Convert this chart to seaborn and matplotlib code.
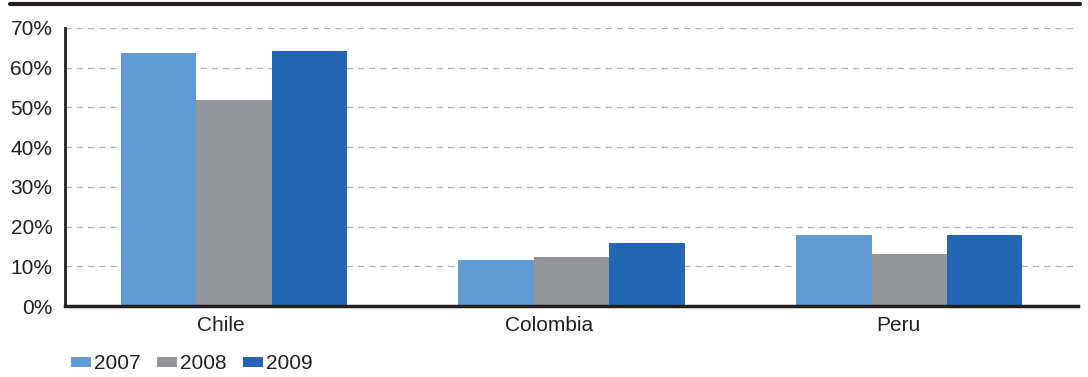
import matplotlib
matplotlib.use("Agg")
import matplotlib.pyplot as plt
import matplotlib.transforms as mtransforms
from matplotlib.lines import Line2D
from matplotlib.patches import Patch
import seaborn as sns
import pandas as pd

countries = ["Chile", "Colombia", "Peru"]
years = ["2007", "2008", "2009"]
v2007 = [63.6, 11.5, 18.0]
v2008 = [51.9, 12.3, 13.0]
v2009 = [64.3, 15.8, 17.8]
yticks = [0, 10, 20, 30, 40, 50, 60, 70]
colors = ["#629BD3", "#939598", "#2366B3"]

rows = []
for y, vals in zip(years, [v2007, v2008, v2009]):
    for c, v in zip(countries, vals):
        rows.append({"country": c, "year": y, "value": v})
df = pd.DataFrame(rows)

sns.set_style("white")
plt.rcParams["font.family"] = ["Liberation Sans", "DejaVu Sans"]

fig = plt.figure(figsize=(10.88, 3.77), dpi=100)
ax = fig.add_axes([0.0597, 0.188, 0.9313, 0.738])

sns.barplot(data=df, x="country", y="value", hue="year", order=countries,
            hue_order=years, palette=colors, width=0.67, gap=0,
            saturation=1, linewidth=0, ax=ax, legend=False)

ax.set_ylim(0, 70)
ax.set_xlim(-0.5, 2.5)
ax.set_yticks(yticks)
ax.set_yticklabels([f"{t}%" for t in yticks], fontsize=15, color="#231f20")
ax.set_xlabel("")
ax.set_ylabel("")
ax.tick_params(axis="x", which="major", length=0, labelsize=15, pad=7, labelcolor="#231f20")
ax.set_xticks([-0.5, 0.5, 1.5, 2.5], minor=True)
ax.tick_params(axis="x", which="minor", length=4, width=1, direction="out", color="#231f20")
ax.tick_params(axis="y", length=5, width=1.5, direction="out", color="#231f20", pad=4)
ax.yaxis.grid(True, linestyle=(0, (5, 4)), color="#b0b0b0", linewidth=0.9)
ax.set_axisbelow(True)
for s in ["top", "right"]:
    ax.spines[s].set_visible(False)
ax.spines["left"].set_color("#231f20")
ax.spines["left"].set_linewidth(2)
ax.spines["bottom"].set_color("#231f20")
ax.spines["bottom"].set_linewidth(2.5)

# labels sit slightly left of the bar-group centres in the reference
shifts_px = [-13, -23, -11]
for lbl, dx in zip(ax.get_xticklabels(), shifts_px):
    lbl.set_transform(lbl.get_transform() +
                      mtransforms.ScaledTranslation(dx / 100, 0, fig.dpi_scale_trans))

fig.add_artist(Line2D([0.009, 0.993], [0.989, 0.989], lw=3, color="#231f20"))

handles = [Patch(facecolor=c, edgecolor="none", label=y) for c, y in zip(colors, years)]
fig.legend(handles=handles, loc="center left", bbox_to_anchor=(0.065, 0.035),
           ncol=3, frameon=False, fontsize=15, handlelength=0.95, handleheight=0.4,
           handletextpad=0.15, columnspacing=0.8, borderaxespad=0, borderpad=0,
           labelcolor="#231f20")

fig.savefig("out.png", dpi=100)
